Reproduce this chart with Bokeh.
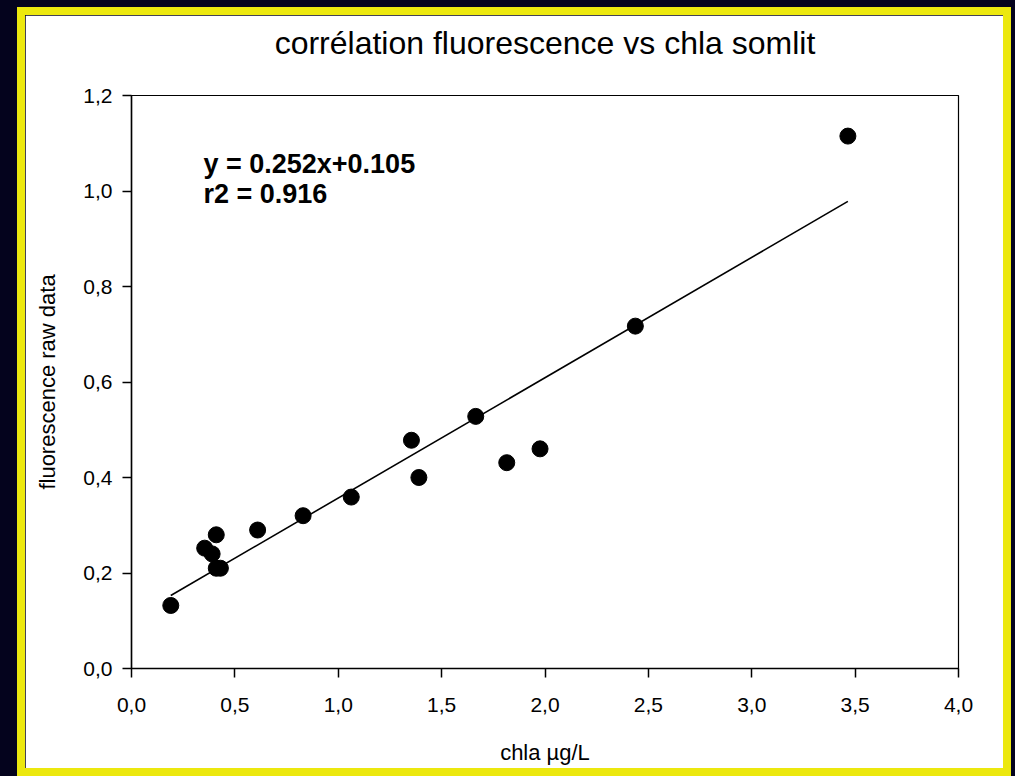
from bokeh.plotting import figure
from bokeh.models import Range1d, FixedTicker, Label, ColumnDataSource
from bokeh.layouts import column
from bokeh.embed import file_html
from bokeh.resources import INLINE

# ---- data ----
chla = [0.19, 0.354, 0.39, 0.41, 0.41, 0.43, 0.61, 0.83, 1.063, 1.354, 1.39, 1.665, 1.815, 1.976, 2.437, 3.465]
fluo = [0.132, 0.252, 0.24, 0.28, 0.21, 0.21, 0.29, 0.32, 0.359, 0.478, 0.40, 0.528, 0.431, 0.46, 0.717, 1.115]
slope = 0.252
intercept = 0.105
eq_lines = ["y = 0.252x+0.105", "r2 = 0.916"]
x_ticks = [0.0, 0.5, 1.0, 1.5, 2.0, 2.5, 3.0, 3.5, 4.0]
x_tick_labels = ["0,0", "0,5", "1,0", "1,5", "2,0", "2,5", "3,0", "3,5", "4,0"]
y_ticks = [0.0, 0.2, 0.4, 0.6, 0.8, 1.0, 1.2]
y_tick_labels = ["0,0", "0,2", "0,4", "0,6", "0,8", "1,0", "1,2"]
title_text = "corrélation fluorescence vs chla somlit"
x_label = "chla µg/L"
y_label = "fluorescence raw data"

FONT = "Liberation Sans"

p = figure(width=994, height=773, output_backend="svg", toolbar_location=None,
           x_range=Range1d(0, 4), y_range=Range1d(0, 1.2),
           min_border_left=106, min_border_right=61, min_border_top=80, min_border_bottom=116,
           background_fill_color="white", border_fill_color="white")

p.title.text = title_text
p.title.text_font = FONT
p.title.text_font_size = "32px"
p.title.text_font_style = "normal"
p.title.text_color = "black"
p.title.align = "center"
p.title.offset = 20
p.title.vertical_align = "bottom"
p.title.standoff = 0
p.title.padding = dict(left=0, right=0, top=0, bottom=35)

p.grid.visible = False
p.outline_line_color = "black"
p.outline_line_width = 1.2

for ax in (p.xaxis[0], p.yaxis[0]):
    ax.axis_line_color = "black"
    ax.axis_line_width = 1.5
    ax.major_tick_line_color = "black"
    ax.major_tick_line_width = 1.5
    ax.major_tick_out = 9
    ax.major_tick_in = 0
    ax.minor_tick_line_color = None
    ax.major_label_text_font = FONT
    ax.major_label_text_font_size = "21px"
    ax.major_label_text_color = "black"
    ax.axis_label_text_font = FONT
    ax.axis_label_text_font_size = "22px"
    ax.axis_label_text_font_style = "normal"
    ax.axis_label_text_color = "black"

p.xaxis.ticker = FixedTicker(ticks=x_ticks)
p.xaxis.major_label_overrides = dict(zip(x_ticks, x_tick_labels))
p.yaxis.ticker = FixedTicker(ticks=y_ticks)
p.yaxis.major_label_overrides = dict(zip(y_ticks, y_tick_labels))
p.xaxis.axis_label = x_label
p.yaxis.axis_label = y_label
p.xaxis.major_label_standoff = 20
p.xaxis.axis_label_standoff = 25
p.yaxis.major_label_standoff = 10
p.yaxis.axis_label_standoff = 20

# regression line
x_fit = [min(chla), max(chla)]
y_fit = [slope * v + intercept for v in x_fit]
p.line(x_fit, y_fit, line_color="black", line_width=1.6)

# points
src = ColumnDataSource(dict(x=chla, y=fluo))
p.scatter("x", "y", source=src, size=16, fill_color="black", line_color="black")

# equation text
eq_x = 0.348
eq_y = [1.056, 0.993]
for t, yy in zip(eq_lines, eq_y):
    p.add_layout(Label(x=eq_x, y=yy, text=t, text_font=FONT, text_font_size="27px",
                       text_font_style="bold", text_baseline="middle", text_align="left",
                       text_color="black"))

p.styles = {"border": "8px solid #ece80e"}

layout = column(p, styles={"background-color": "#04031d", "padding-left": "17px",
                           "padding-top": "7px", "width": "1015px", "height": "776px",
                           "box-sizing": "border-box", "overflow": "hidden"})

open("out.html", "w").write(file_html(layout, INLINE))
